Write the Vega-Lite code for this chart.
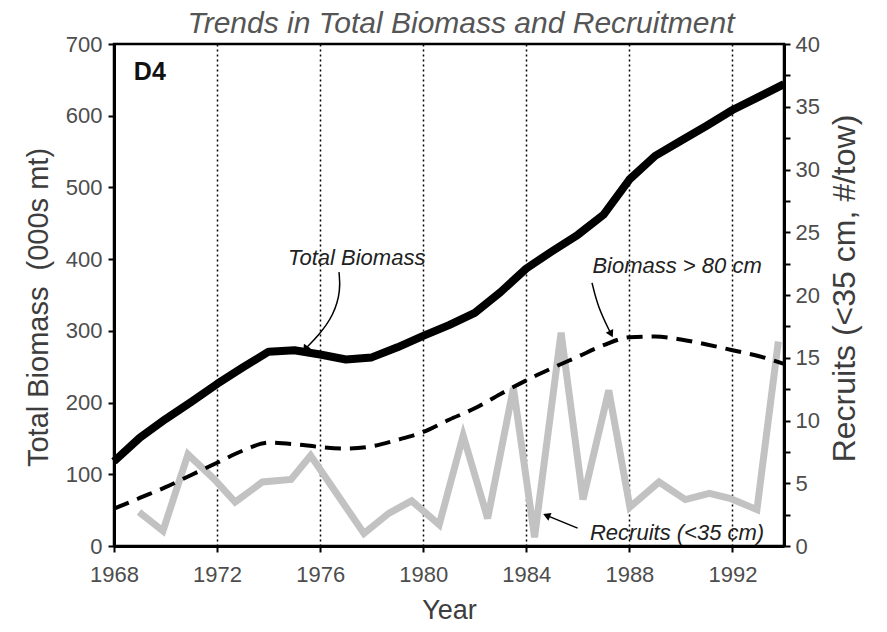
{
  "$schema": "https://vega.github.io/schema/vega-lite/v6.json",
  "width": 670,
  "height": 502,
  "autosize": "none",
  "padding": {"left": 114, "top": 44, "right": 103, "bottom": 86},
  "background": "white",
  "config": {
    "font": "Liberation Sans",
    "view": {"stroke": "black", "strokeWidth": 2.5},
    "axis": {
      "domainColor": "black", "domainWidth": 3, "tickColor": "black", "tickWidth": 2, "tickSize": 6,
      "labelColor": "#4d4d4d", "labelFont": "Liberation Sans", "labelFontSize": 22,
      "titleColor": "#3d3d3d", "titleFont": "Liberation Sans", "titleFontWeight": "normal"
    }
  },
  "title": {
    "text": "Trends in Total Biomass and Recruitment",
    "font": "Liberation Sans", "fontSize": 30, "fontStyle": "italic", "fontWeight": "normal",
    "color": "#555555", "anchor": "middle", "offset": -6, "dx": 12
  },
  "datasets": {
    "biomass": [
      {"year": 1968, "total": 118, "large": 52},
      {"year": 1969, "total": 151, "large": 67},
      {"year": 1970, "total": 177, "large": 82},
      {"year": 1971, "total": 201, "large": 99},
      {"year": 1972, "total": 226, "large": 116},
      {"year": 1973, "total": 249, "large": 133},
      {"year": 1974, "total": 271, "large": 144},
      {"year": 1975, "total": 273, "large": 142},
      {"year": 1976, "total": 267, "large": 138},
      {"year": 1977, "total": 260, "large": 136},
      {"year": 1978, "total": 263, "large": 139},
      {"year": 1979, "total": 277, "large": 148},
      {"year": 1980, "total": 293, "large": 159},
      {"year": 1981, "total": 308, "large": 176},
      {"year": 1982, "total": 325, "large": 192},
      {"year": 1983, "total": 354, "large": 212},
      {"year": 1984, "total": 387, "large": 231},
      {"year": 1985, "total": 411, "large": 248},
      {"year": 1986, "total": 434, "large": 264},
      {"year": 1987, "total": 462, "large": 280},
      {"year": 1988, "total": 511, "large": 291},
      {"year": 1989, "total": 544, "large": 292},
      {"year": 1990, "total": 565, "large": 288},
      {"year": 1991, "total": 586, "large": 281},
      {"year": 1992, "total": 608, "large": 273},
      {"year": 1993, "total": 626, "large": 265},
      {"year": 1994, "total": 644, "large": 254}
    ],
    "recruits": [
      {"year": 1968.97, "recruits": 2.7},
      {"year": 1969.9, "recruits": 1.2},
      {"year": 1970.87, "recruits": 7.3},
      {"year": 1971.9, "recruits": 5.3},
      {"year": 1972.7, "recruits": 3.5},
      {"year": 1973.76, "recruits": 5.1},
      {"year": 1974.87, "recruits": 5.3},
      {"year": 1975.63, "recruits": 7.2},
      {"year": 1976.6, "recruits": 4.3},
      {"year": 1977.7, "recruits": 1.0},
      {"year": 1978.66, "recruits": 2.6},
      {"year": 1979.55, "recruits": 3.6},
      {"year": 1980.62, "recruits": 1.7},
      {"year": 1981.55, "recruits": 8.8},
      {"year": 1982.5, "recruits": 2.2},
      {"year": 1983.5, "recruits": 12.6},
      {"year": 1984.32, "recruits": 0.7},
      {"year": 1985.35, "recruits": 17.0},
      {"year": 1986.2, "recruits": 3.7},
      {"year": 1987.2, "recruits": 12.4},
      {"year": 1988.02, "recruits": 3.1},
      {"year": 1989.15, "recruits": 5.1},
      {"year": 1990.17, "recruits": 3.7},
      {"year": 1991.1, "recruits": 4.2},
      {"year": 1991.9, "recruits": 3.8},
      {"year": 1992.95, "recruits": 2.9},
      {"year": 1993.78, "recruits": 16.3}
    ],
    "arrows": [
      {"arrow": "total", "step": 1, "year": 1976.73, "value": 382},
      {"arrow": "total", "step": 2, "year": 1976.8, "value": 357},
      {"arrow": "total", "step": 3, "year": 1976.53, "value": 322},
      {"arrow": "total", "step": 4, "year": 1975.95, "value": 294},
      {"arrow": "total", "step": 5, "year": 1975.45, "value": 276},
      {"arrow": "large", "step": 1, "year": 1986.55, "value": 367},
      {"arrow": "large", "step": 2, "year": 1986.78, "value": 333},
      {"arrow": "large", "step": 3, "year": 1987.27, "value": 297},
      {"arrow": "recruits", "step": 1, "year": 1985.99, "value": 25},
      {"arrow": "recruits", "step": 2, "year": 1984.83, "value": 42}
    ],
    "labels": [
      {"label": "D4", "year": 1969.39, "value": 661},
      {"label": "Total Biomass", "year": 1977.42, "value": 401},
      {"label": "Biomass > 80 cm", "year": 1989.85, "value": 390},
      {"label": "Recruits (<35 cm)", "year": 1989.85, "value": 18}
    ]
  },
  "layer": [
    {
      "data": {"name": "recruits"},
      "mark": {"type": "line", "color": "#c2c2c2", "strokeWidth": 7, "strokeJoin": "miter"},
      "encoding": {
        "x": {
          "field": "year", "type": "quantitative",
          "scale": {"domain": [1968, 1994], "nice": false, "zero": false},
          "axis": {
            "values": [1968, 1972, 1976, 1980, 1984, 1988, 1992],
            "format": "d", "title": "Year", "titleFontSize": 27, "titlePadding": 12,
            "labelPadding": 12, "labelFlush": false, "grid": true, "gridColor": "black", "gridDash": [2, 3], "gridWidth": 1.5
          }
        },
        "y": {
          "field": "recruits", "type": "quantitative",
          "scale": {"domain": [0, 40], "nice": false},
          "axis": {
            "orient": "right", "title": "Recruits (<35 cm, #/tow)", "titleFontSize": 32, "titlePadding": 10, "titleAngle": 270, "titleBaseline": "top", "titleY": 244,
            "values": [0, 2.5, 5, 7.5, 10, 12.5, 15, 17.5, 20, 22.5, 25, 27.5, 30, 32.5, 35, 37.5, 40],
            "labelExpr": "datum.value % 5 === 0 ? datum.label : ''",
            "labelPadding": 5, "labelFlush": false, "grid": false
          }
        }
      }
    },
    {
      "layer": [
        {
          "data": {"name": "biomass"},
          "mark": {"type": "line", "color": "black", "strokeWidth": 4, "strokeDash": [16, 9], "interpolate": "monotone"},
          "encoding": {
            "x": {"field": "year", "type": "quantitative"},
            "y": {
              "field": "large", "type": "quantitative",
              "scale": {"domain": [0, 700], "nice": false},
              "axis": {
                "orient": "left", "title": "Total Biomass\u00a0 (000s mt)", "titleFontSize": 29, "titlePadding": 12, "titleY": 263,
                "values": [0, 50, 100, 150, 200, 250, 300, 350, 400, 450, 500, 550, 600, 650, 700],
                "labelExpr": "datum.value % 100 === 0 ? datum.label : ''",
                "labelPadding": 6, "labelFlush": false, "grid": false
              }
            }
          }
        },
        {
          "data": {"name": "biomass"},
          "mark": {"type": "line", "color": "black", "strokeWidth": 8, "strokeJoin": "round"},
          "encoding": {
            "x": {"field": "year", "type": "quantitative"},
            "y": {"field": "total", "type": "quantitative"}
          }
        },
        {
          "data": {"name": "arrows"},
          "mark": {"type": "line", "color": "black", "strokeWidth": 1.5, "interpolate": "basis"},
          "encoding": {
            "x": {"field": "year", "type": "quantitative"},
            "y": {"field": "value", "type": "quantitative"},
            "detail": {"field": "arrow"},
            "order": {"field": "step"}
          }
        },
        {
          "data": {"name": "arrows"},
          "transform": [{"filter": "datum.arrow === 'total' && datum.step === 5"}],
          "mark": {"type": "point", "shape": "triangle", "filled": true, "color": "black", "size": 70, "angle": 215, "opacity": 1},
          "encoding": {"x": {"field": "year", "type": "quantitative"}, "y": {"field": "value", "type": "quantitative"}}
        },
        {
          "data": {"name": "arrows"},
          "transform": [{"filter": "datum.arrow === 'large' && datum.step === 3"}],
          "mark": {"type": "point", "shape": "triangle", "filled": true, "color": "black", "size": 70, "angle": 153, "opacity": 1},
          "encoding": {"x": {"field": "year", "type": "quantitative"}, "y": {"field": "value", "type": "quantitative"}}
        },
        {
          "data": {"name": "arrows"},
          "transform": [{"filter": "datum.arrow === 'recruits' && datum.step === 2"}],
          "mark": {"type": "point", "shape": "triangle", "filled": true, "color": "black", "size": 70, "angle": 292, "opacity": 1},
          "encoding": {"x": {"field": "year", "type": "quantitative"}, "y": {"field": "value", "type": "quantitative"}}
        },
        {
          "data": {"name": "labels"},
          "transform": [{"filter": "datum.label === 'D4'"}],
          "mark": {"type": "text", "font": "Liberation Sans", "fontSize": 25, "fontWeight": "bold", "color": "#111111", "align": "center", "baseline": "middle"},
          "encoding": {"x": {"field": "year", "type": "quantitative"}, "y": {"field": "value", "type": "quantitative"}, "text": {"field": "label"}}
        },
        {
          "data": {"name": "labels"},
          "transform": [{"filter": "datum.label !== 'D4'"}],
          "mark": {"type": "text", "font": "Liberation Sans", "fontSize": 22, "fontStyle": "italic", "color": "#222222", "align": "center", "baseline": "middle"},
          "encoding": {"x": {"field": "year", "type": "quantitative"}, "y": {"field": "value", "type": "quantitative"}, "text": {"field": "label"}}
        }
      ]
    }
  ],
  "resolve": {"scale": {"y": "independent"}, "axis": {"y": "independent"}}
}
